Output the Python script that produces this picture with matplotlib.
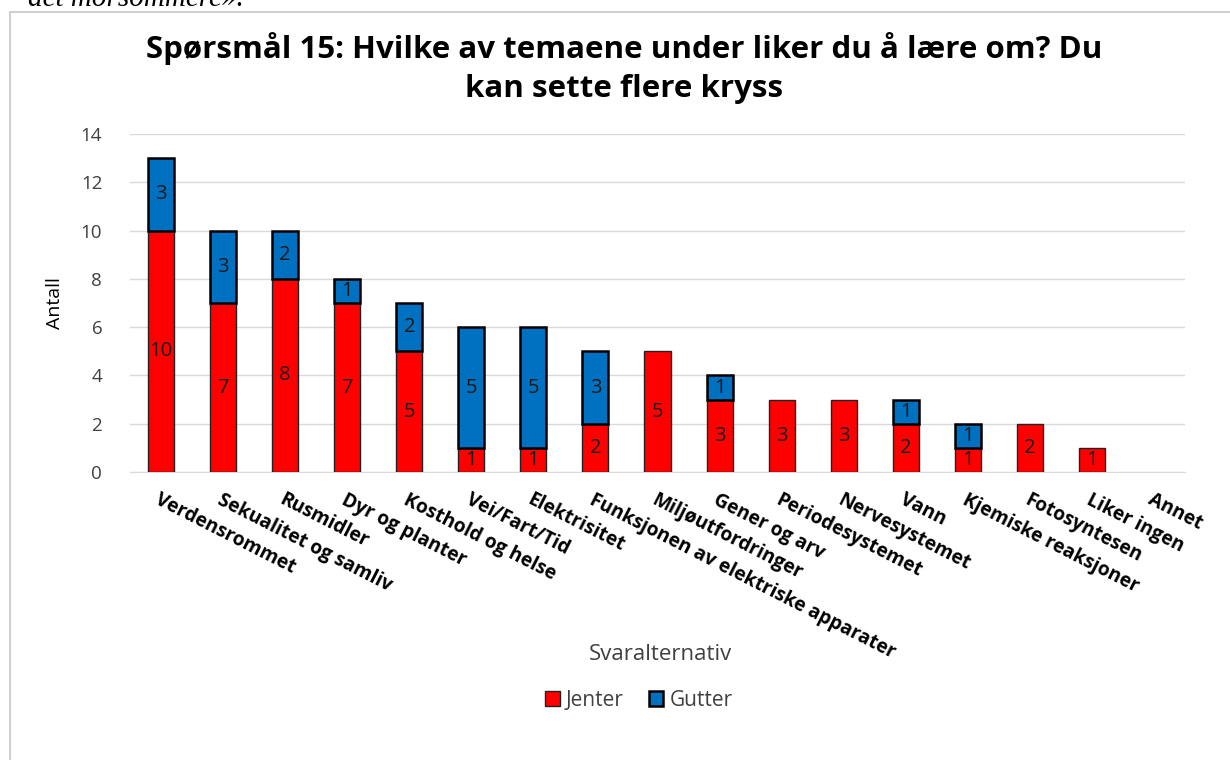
# Spørsmål 15 - stacked bar chart, jenter / gutter
import numpy as np
import matplotlib.pyplot as plt
from matplotlib.patches import Rectangle

plt.rcParams['font.family'] = ['Open Sans', 'DejaVu Sans']

categories = ['Verdensrommet', 'Sekualitet og samliv', 'Rusmidler', 'Dyr og planter',
              'Kosthold og helse', 'Vei/Fart/Tid', 'Elektrisitet',
              'Funksjonen av elektriske apparater', 'Miljøutfordringer', 'Gener og arv',
              'Periodesystemet', 'Nervesystemet', 'Vann', 'Kjemiske reaksjoner',
              'Fotosyntesen', 'Liker ingen', 'Annet']
jenter = [10, 7, 8, 7, 5, 1, 1, 2, 5, 3, 3, 3, 2, 1, 2, 1, 0]
gutter = [3, 3, 2, 1, 2, 5, 5, 3, 0, 1, 0, 0, 1, 1, 0, 0, 0]

red = '#ff0000'
blue = '#0070c0'

fig = plt.figure(figsize=(12.3, 7.6), dpi=100)
ax = fig.add_axes([130 / 1230, 1 - 472 / 760, 1055 / 1230, 338 / 760])

# chart border and the cut-off text above it
fig.patches.append(Rectangle((10 / 1230, -0.05), 1.2, 1 - 12 / 760 + 0.05, transform=fig.transFigure,
                             fill=False, edgecolor='#d0d0d0', lw=1.5))
fig.text(28 / 1230, 1 - 6 / 760, 'det morsommere».', family='Liberation Serif', style='italic',
         fontsize=21, va='baseline', ha='left')

x = np.arange(len(categories))
# no edge on empty segments
lw_j = [1 if v > 0 else 0 for v in jenter]
lw_g = [1.8 if v > 0 else 0 for v in gutter]
b1 = ax.bar(x, jenter, width=0.42, color=red, edgecolor='#222222', lw=lw_j, label='Jenter', zorder=3)
b2 = ax.bar(x, gutter, width=0.42, bottom=jenter, color=blue, edgecolor='black', lw=lw_g,
            label='Gutter', zorder=3)
for i in range(len(x)):
    if jenter[i] > 0:
        ax.text(x[i], jenter[i] / 2, str(jenter[i]), ha='center', va='center', fontsize=14.5,
                color='#1a1a1a', zorder=4)
    if gutter[i] > 0:
        ax.text(x[i], jenter[i] + gutter[i] / 2, str(gutter[i]), ha='center', va='center',
                fontsize=14.5, color='#1a1a1a', zorder=4)

ax.set_xlim(-0.5, len(categories) - 0.5)
ax.set_ylim(0, 14)
ax.set_yticks(np.arange(0, 15, 2))
ax.grid(axis='y', color='#d9d9d9', lw=1, zorder=0)
for s in ['top', 'right', 'left']:
    ax.spines[s].set_visible(False)
ax.spines['bottom'].set_color('#d9d9d9')
ax.tick_params(length=0, labelsize=13.5, labelcolor='#404040')
ax.tick_params(axis='y', pad=20)
ax.set_xticks(x)
ax.set_xticklabels(categories, rotation=-27, ha='left', rotation_mode='anchor',
                   fontsize=13.8, fontweight='bold', color='black')
ax.tick_params(axis='x', pad=13)

ax.set_ylabel('Antall', fontsize=14, labelpad=12)
fig.text(660 / 1230, 1 - 655 / 760, 'Svaralternativ', ha='center', va='center', fontsize=16,
         color='#404040')
fig.text(624 / 1230, 1 - 68 / 760, 'Spørsmål 15: Hvilke av temaene under liker du å lære om? Du\nkan sette flere kryss',
         ha='center', va='center', fontsize=22.5, fontweight='bold', linespacing=1.4)

fig.legend(handles=[b1, b2], labels=['Jenter', 'Gutter'], loc='center',
           bbox_to_anchor=(639 / 1230, 1 - 700 / 760), ncol=2, frameon=False, fontsize=15,
           handlelength=0.7, handleheight=0.7, handletextpad=0.3, columnspacing=1.2,
           labelcolor='#404040')

fig.savefig('out.png', dpi=100)
